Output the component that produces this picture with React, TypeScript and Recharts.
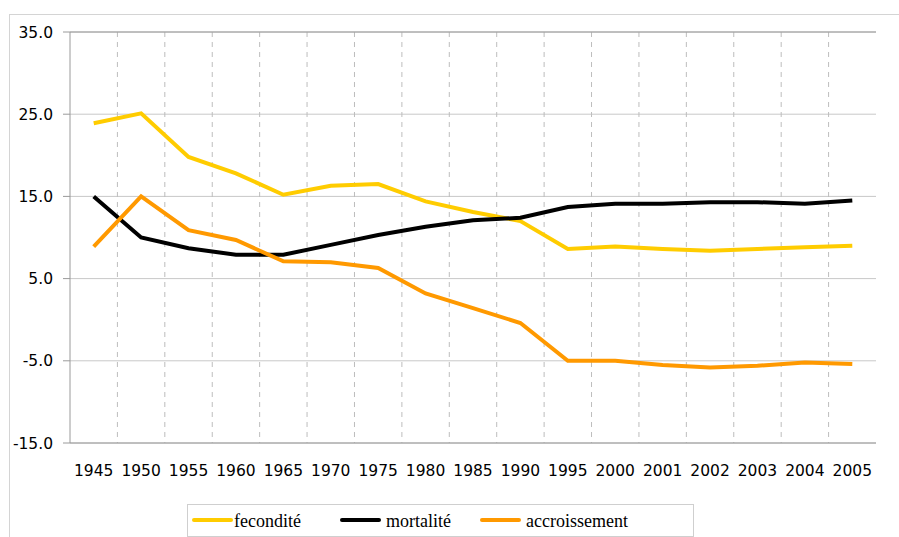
import { LineChart, Line, XAxis, YAxis, CartesianGrid, ReferenceLine } from 'recharts'

const years = ['1945', '1950', '1955', '1960', '1965', '1970', '1975', '1980', '1985', '1990', '1995', '2000', '2001', '2002', '2003', '2004', '2005']
const fecondite = [23.9, 25.1, 19.8, 17.8, 15.2, 16.3, 16.5, 14.4, 13.1, 12.0, 8.6, 8.9, 8.6, 8.4, 8.6, 8.8, 9.0]
const mortalite = [15.0, 10.0, 8.7, 7.9, 7.9, 9.1, 10.3, 11.3, 12.1, 12.4, 13.7, 14.1, 14.1, 14.3, 14.3, 14.1, 14.5]
const accroissement = [8.9, 15.0, 10.9, 9.7, 7.1, 7.0, 6.3, 3.2, 1.4, -0.4, -5.0, -5.0, -5.5, -5.8, -5.6, -5.2, -5.4]
const yTicks = [-15, -5, 5, 15, 25, 35]

const series = [
  { key: 'fecondite', name: 'fecondité', color: '#FFCC00' },
  { key: 'mortalite', name: 'mortalité', color: '#000000' },
  { key: 'accroissement', name: 'accroissement', color: '#FF9900' },
]

const data = years.map((year, i) => ({
  year,
  fecondite: fecondite[i],
  mortalite: mortalite[i],
  accroissement: accroissement[i],
}))

const tickFont = { fontFamily: 'DejaVu Sans', fontSize: 15.5, fill: '#000' }
const legendLeft = [192, 340, 480]

export default function App() {
  return (
    <div style={{ position: 'fixed', left: 0, top: 0, width: 899, height: 537, overflow: 'hidden', background: '#fff' }}>
      {/* outer frame */}
      <div style={{ position: 'absolute', left: 9, top: 14, width: 1000, height: 700, border: '1px solid #d4d4d4' }} />
      <div style={{ position: 'absolute', left: 0, top: 0 }}>
        <LineChart width={899} height={537} data={data} margin={{ top: 32, right: 23, left: 10, bottom: 54 }}>
          <CartesianGrid vertical={false} stroke="#c8c8c8" yAxisId="l" />
          <CartesianGrid
            horizontal={false}
            stroke="#bdbdbd"
            strokeDasharray="5 5"
            verticalCoordinatesGenerator={({ offset }: any) =>
              years.slice(1).map((_, k) => offset.left + (offset.width * (k + 1)) / years.length)
            }
          />
          <XAxis
            dataKey="year"
            scale="band"
            interval={0}
            height={40}
            tick={tickFont}
            tickLine={{ stroke: 'none' }}
            tickSize={6}
            tickMargin={16}
            axisLine={{ stroke: '#9a9a9a' }}
          />
          <YAxis
            yAxisId="l"
            domain={[-15, 35]}
            ticks={yTicks}
            width={60}
            tick={tickFont}
            tickSize={7}
            tickMargin={10}
            tickLine={{ stroke: '#9a9a9a' }}
            axisLine={{ stroke: '#9a9a9a' }}
            tickFormatter={(v: number) => v.toFixed(1)}
          />
          <YAxis yAxisId="r" orientation="right" domain={[-15, 35]} ticks={yTicks} width={0} tick={false} tickLine={false} axisLine={{ stroke: '#9a9a9a' }} />
          <ReferenceLine yAxisId="l" y={35} stroke="#9a9a9a" />
          {series.map((s) => (
            <Line
              key={s.key}
              yAxisId="l"
              type="linear"
              dataKey={s.key}
              name={s.name}
              stroke={s.color}
              strokeWidth={4}
              dot={false}
              activeDot={false}
              isAnimationActive={false}
            />
          ))}
        </LineChart>
      </div>
      {/* legend */}
      <div style={{ position: 'absolute', left: 187, top: 504, width: 505, height: 31, border: '1px solid #cfcfcf', background: '#fff' }} />
      {series.map((s, i) => (
        <div
          key={s.key}
          style={{ position: 'absolute', left: legendLeft[i], top: 507, height: 28, display: 'flex', alignItems: 'center', whiteSpace: 'nowrap' }}
        >
          <span style={{ display: 'inline-block', width: 41, height: 4, borderRadius: 2, background: s.color, marginRight: i === 0 ? 1 : 5, marginTop: -3 }} />
          <span style={{ fontFamily: 'Liberation Serif', fontSize: 18, color: '#000' }}>{s.name}</span>
        </div>
      ))}
    </div>
  )
}
